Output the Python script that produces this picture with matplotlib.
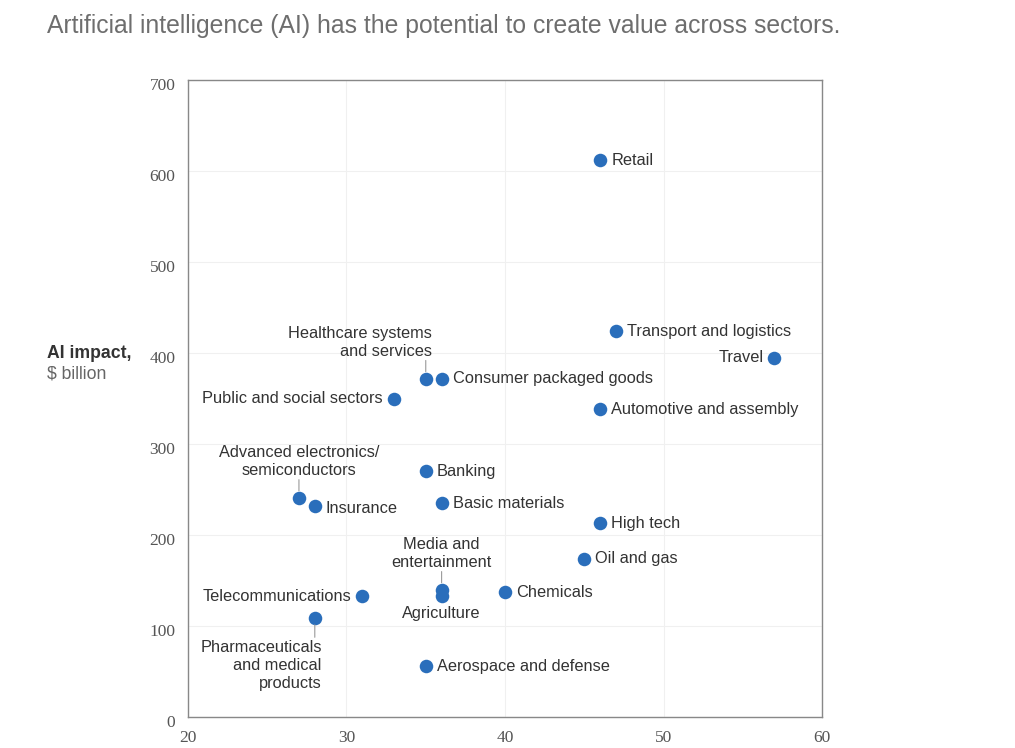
import matplotlib
matplotlib.use('Agg')
import matplotlib.pyplot as plt
import matplotlib.transforms as mtransforms

# Sector values.
sectors = [
    "Retail", "Transport and logistics", "Travel",
    "Healthcare systems\nand services", "Consumer packaged goods",
    "Public and social sectors", "Automotive and assembly", "Banking",
    "Advanced electronics/\nsemiconductors", "Insurance", "Basic materials",
    "High tech", "Oil and gas", "Chemicals", "Media and\nentertainment",
    "Agriculture", "Telecommunications",
    "Pharmaceuticals\nand medical\nproducts", "Aerospace and defense",
]
x_vals = [46, 47, 57, 35, 36, 33, 46, 35, 27, 28, 36, 46, 45, 40, 36, 36, 31, 28, 35]
ai_impact = [612, 424, 395, 372, 372, 350, 338, 270, 241, 232, 235, 213, 174, 137, 140, 133, 133, 109, 56]

# label placement: side, dx, dy in points
placement = {
    "Retail": ("right", 0, 0),
    "Transport and logistics": ("right", 0, 0),
    "Travel": ("left", 0, 0),
    "Healthcare systems\nand services": ("above_right", 4.5, 14),
    "Consumer packaged goods": ("right", 0, 0),
    "Public and social sectors": ("left", 0, 0),
    "Automotive and assembly": ("right", 0, 0),
    "Banking": ("right", 0, 0),
    "Advanced electronics/\nsemiconductors": ("above", 0, 14),
    "Insurance": ("right", 0, -2),
    "Basic materials": ("right", 0, 0),
    "High tech": ("right", 0, 0),
    "Oil and gas": ("right", 0, 0),
    "Chemicals": ("right", 0, 0),
    "Media and\nentertainment": ("above", 0, 14),
    "Agriculture": ("below", 0, -7),
    "Telecommunications": ("left", 0, 0),
    "Pharmaceuticals\nand medical\nproducts": ("below_left", 5, -16),
    "Aerospace and defense": ("right", 0, 0),
}

dot_color = "#2a6ebb"
text_color = "#333333"
leader_color = "#999999"
label_font = ["Liberation Sans", "DejaVu Sans"]
tick_font = ["Liberation Serif", "DejaVu Serif"]
fs = 11.8

fig = plt.figure(figsize=(10.15, 7.48), dpi=100)
ax = fig.add_axes([0.1852, 0.0414, 0.6247, 0.8516])

ax.scatter(x_vals, ai_impact, s=95, color=dot_color, zorder=3, linewidths=0)

txt = dict(fontsize=fs, color=text_color, family=label_font,
           textcoords="offset points", linespacing=1.25)
for name, x, y in zip(sectors, x_vals, ai_impact):
    side, dx, dy = placement[name]
    if side == "right":
        ax.annotate(name, (x, y), xytext=(8, dy), ha="left", va="center", **txt)
    elif side == "left":
        ax.annotate(name, (x, y), xytext=(-8, dy), ha="right", va="center", **txt)
    elif side in ("above", "above_right"):
        ha = "center" if side == "above" else "right"
        ax.annotate(name, (x, y), xytext=(dx, dy), ha=ha, va="bottom",
                    multialignment=ha, **txt)
        # short vertical leader line
        ax.annotate("", (x, y), xytext=(0, dy - 1), textcoords="offset points",
                    arrowprops=dict(arrowstyle="-", color=leader_color, lw=0.8,
                                    shrinkA=0, shrinkB=5))
    elif side == "below":
        ax.annotate(name, (x, y), xytext=(dx, dy), ha="center", va="top", **txt)
    elif side == "below_left":
        ax.annotate(name, (x, y), xytext=(dx, dy), ha="right", va="top",
                    multialignment="right", **txt)
        ax.annotate("", (x, y), xytext=(0, dy + 2), textcoords="offset points",
                    arrowprops=dict(arrowstyle="-", color=leader_color, lw=0.8,
                                    shrinkA=0, shrinkB=5))

ax.set_xlim(20, 60)
ax.set_ylim(0, 700)
ax.set_xticks([20, 30, 40, 50, 60])
ax.set_yticks([0, 100, 200, 300, 400, 500, 600, 700])
ax.grid(True, color="#f0f0f0", lw=0.8)
ax.set_axisbelow(True)
for sp in ax.spines.values():
    sp.set_color("#888888")
    sp.set_linewidth(1.0)
ax.tick_params(length=0, labelsize=12.5, labelcolor="#555555")
ax.tick_params(axis="y", pad=9)
ax.tick_params(axis="x", pad=9)
for lab in ax.get_xticklabels() + ax.get_yticklabels():
    lab.set_family(tick_font)
# y labels sit a little below their gridlines in the original
shift = mtransforms.ScaledTranslation(0, -3 / 72, fig.dpi_scale_trans)
for lab in ax.get_yticklabels():
    lab.set_transform(lab.get_transform() + shift)

fig.text(0.046, 0.527, "AI impact,", fontsize=12.7, fontweight="bold",
         color=text_color, family=label_font, ha="left", va="center")
fig.text(0.046, 0.500, "$ billion", fontsize=12.7, color="#666666",
         family=label_font, ha="left", va="center")

fig.text(0.046, 0.965, "Artificial intelligence (AI) has the potential to create value across sectors.",
         fontsize=17.8, color="#6e6e6e", family=label_font, ha="left", va="center")

fig.savefig("out.png", dpi=100)
